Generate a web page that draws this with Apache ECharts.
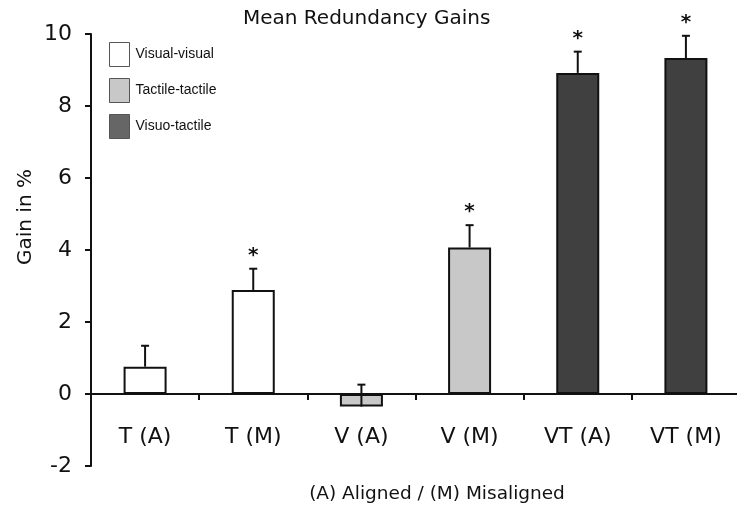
<!DOCTYPE html>
<html>
<head>
<meta charset="utf-8">
<script src="https://cdn.jsdelivr.net/npm/echarts@6/dist/echarts.min.js"></script>
<style>html,body{margin:0;padding:0;background:#fff}#c{width:737px;height:505px}</style>
</head>
<body>
<div id="c"></div>
<script>
var categories = ['T (A)', 'T (M)', 'V (A)', 'V (M)', 'VT (A)', 'VT (M)'];
var means = [0.76, 2.89, -0.35, 4.07, 8.92, 9.33];
var errors = [0.58, 0.59, 0.61, 0.62, 0.59, 0.62];
var significant = [false, true, false, true, true, true];
var groupNames = ['Visual-visual', 'Tactile-tactile', 'Visuo-tactile'];
var groupOf = [0, 0, 1, 1, 2, 2];
var groupColors = ['#ffffff', '#c8c8c8', '#404040'];
var legendColors = ['#ffffff', '#c8c8c8', '#666666'];
var yTicks = [-2, 0, 2, 4, 6, 8, 10];

var font = 'DejaVu Sans, Verdana, sans-serif';

var barSeries = groupNames.map(function (g, gi) {
  return {
    name: g,
    type: 'bar',
    barWidth: 43,
    barGap: '-100%',
    itemStyle: { color: groupColors[gi], borderColor: '#111', borderWidth: 2 },
    data: means.map(function (m, i) { return groupOf[i] === gi ? m : '-'; }),
    z: 2
  };
});

var errData = means.map(function (m, i) { return [i, m, errors[i], significant[i] ? 1 : 0]; });

var chart = echarts.init(document.getElementById('c'), null, { renderer: 'canvas' });
chart.setOption({
  animation: false,
  title: {
    text: 'Mean Redundancy Gains',
    left: 238, top: 4,
    textStyle: { fontFamily: font, fontSize: 20, fontWeight: 'normal', color: '#111' }
  },
  legend: {
    orient: 'vertical', left: 104, top: 37,
    itemWidth: 20, itemHeight: 24, itemGap: 11, icon: 'rect',
    selectedMode: false,
    data: groupNames.map(function (g, gi) {
      return { name: g, itemStyle: { color: legendColors[gi], borderColor: '#555', borderWidth: 1 } };
    }),
    textStyle: { fontFamily: 'Liberation Sans, Arial, sans-serif', fontSize: 14, color: '#111', padding: [0, 0, 0, 1] }
  },
  grid: { left: 91, top: 34, width: 649, height: 432, containLabel: false, outerBoundsMode: 'none' },
  xAxis: {
    type: 'category',
    data: categories,
    axisLine: { onZero: true, lineStyle: { color: '#111', width: 2 } },
    axisTick: { show: true, length: 6, lineStyle: { color: '#111', width: 2 } },
    axisLabel: { margin: -40, fontFamily: font, fontSize: 22, color: '#111' }
  },
  yAxis: {
    type: 'value', min: -2, max: 10, interval: 2,
    axisLine: { show: true, lineStyle: { color: '#111', width: 2 } },
    axisTick: { show: true, length: 6, lineStyle: { color: '#111', width: 2 } },
    axisLabel: { margin: 19, fontFamily: font, fontSize: 22, color: '#111' },
    splitLine: { show: false }
  },
  graphic: [
    { type: 'text', x: 26, y: 217, rotation: Math.PI / 2,
      style: { text: 'Gain in %', font: '20px ' + font, fill: '#111', textAlign: 'center', textVerticalAlign: 'middle' } },
    { type: 'text', x: 437, y: 494,
      style: { text: '(A) Aligned / (M) Misaligned', font: '18.5px ' + font, fill: '#111', textAlign: 'center', textVerticalAlign: 'middle' } }
  ],
  series: barSeries.concat([{
    type: 'custom',
    z: 5,
    data: errData,
    encode: { x: 0, y: 1 },
    renderItem: function (params, api) {
      var idx = api.value(0);
      var base = api.coord([idx, api.value(1)]);
      var top = api.coord([idx, api.value(1) + api.value(2)]);
      var children = [
        { type: 'line', shape: { x1: base[0], y1: base[1], x2: top[0], y2: top[1] }, style: { stroke: '#111', lineWidth: 2 } },
        { type: 'line', shape: { x1: top[0] - 4, y1: top[1], x2: top[0] + 4, y2: top[1] }, style: { stroke: '#111', lineWidth: 2 } }
      ];
      if (api.value(3) === 1) {
        children.push({ type: 'text', x: top[0], y: top[1] - 3,
          style: { text: '*', font: 'bold 20px ' + font, fill: '#111', textAlign: 'center', textVerticalAlign: 'bottom' } });
      }
      return { type: 'group', children: children };
    }
  }])
});
</script>
</body>
</html>
